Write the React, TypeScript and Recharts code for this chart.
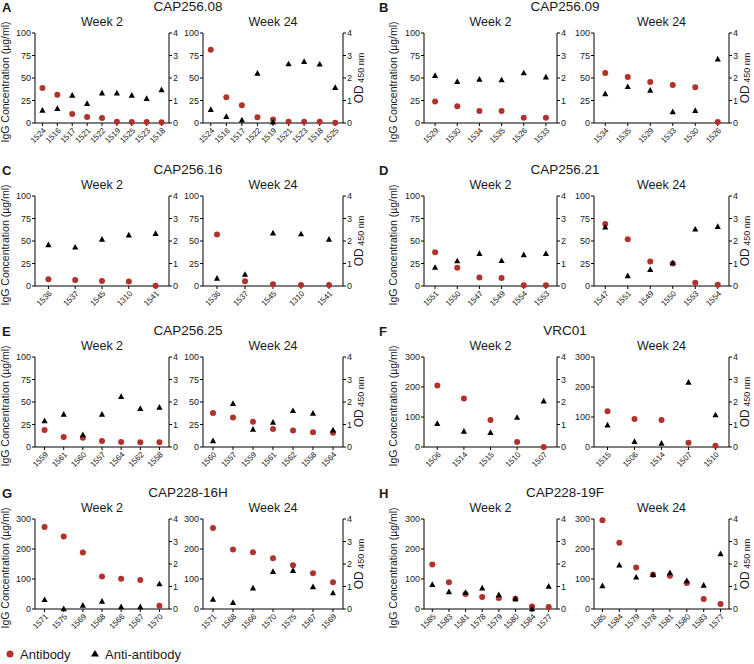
import { ComposedChart, Scatter, XAxis, YAxis } from "recharts";

const FONT = "'Liberation Sans', Arial, Helvetica, sans-serif";
const RED = "#b3312b";
const INK = "#1a1a1a";

// A  CAP256.08
const a2Mice = ["1524", "1516", "1517", "1521", "1522", "1519", "1525", "1523", "1518"];
const a2Antibody = [39, 31.5, 10, 6.7, 5.6, 1.5, 1.1, 1.1, 0.7];
const a2Anti = [0.56, 0.64, 1.23, 0.86, 1.33, 1.33, 1.23, 1.08, 1.47];
const a24Mice = ["1524", "1516", "1517", "1522", "1519", "1521", "1523", "1518", "1525"];
const a24Antibody = [81.5, 28.5, 19.6, 6.3, 4, 1.5, 1.5, 1.5, 0.4];
const a24Anti = [0.59, 0.28, 0.13, 2.2, 0.04, 2.62, 2.73, 2.61, 1.57];

// B  CAP256.09
const b2Mice = ["1529", "1530", "1534", "1535", "1526", "1533"];
const b2Antibody = [24, 18.5, 13.3, 13.3, 5.9, 5.9];
const b2Anti = [2.1, 1.84, 1.94, 1.91, 2.22, 2.04];
const b24Mice = ["1534", "1535", "1529", "1533", "1530", "1526"];
const b24Antibody = [55.6, 51, 45.5, 42.2, 39.6, 1];
const b24Anti = [1.29, 1.61, 1.45, 0.49, 0.55, 2.84];

// C  CAP256.16
const c2Mice = ["1536", "1537", "1545", "1310", "1541"];
const c2Antibody = [7.5, 6.7, 5.6, 4.9, 0.4];
const c2Anti = [1.83, 1.72, 2.07, 2.26, 2.33];
const c24Mice = ["1536", "1537", "1545", "1310", "1541"];
const c24Antibody = [57.3, 5.2, 1.9, 1.1, 1.1];
const c24Anti = [0.34, 0.51, 2.35, 2.31, 2.07];

// D  CAP256.21
const d2Mice = ["1551", "1550", "1547", "1549", "1554", "1553"];
const d2Antibody = [37.5, 20.2, 9.4, 9, 0.7, 0.7];
const d2Anti = [0.82, 1.11, 1.44, 1.12, 1.38, 1.44];
const d24Mice = ["1547", "1551", "1549", "1550", "1553", "1554"];
const d24Antibody = [68.9, 52, 27.3, 25, 3.7, 1.5];
const d24Anti = [2.61, 0.45, 0.73, 1.02, 2.52, 2.64];

// E  CAP256.25
const e2Mice = ["1559", "1561", "1560", "1557", "1564", "1562", "1558"];
const e2Antibody = [19, 11.2, 10.4, 6.7, 5.6, 5.2, 5.2];
const e2Anti = [1.16, 1.45, 0.54, 1.45, 2.24, 1.7, 1.76];
const e24Mice = ["1560", "1557", "1559", "1561", "1562", "1558", "1564"];
const e24Antibody = [37.7, 32.8, 28, 20, 18.3, 16.4, 15.7];
const e24Anti = [0.27, 1.93, 0.78, 1.09, 1.61, 1.49, 0.75];

// F  VRC01
const f2Mice = ["1506", "1514", "1515", "1510", "1507"];
const f2Antibody = [205, 162, 90, 17, 0];
const f2Anti = [1.04, 0.69, 0.64, 1.31, 2.04];
const f24Mice = ["1515", "1506", "1514", "1507", "1510"];
const f24Antibody = [119, 93, 90, 14, 4];
const f24Anti = [0.97, 0.24, 0.16, 2.87, 1.42];

// G  CAP228-16H
const g2Mice = ["1571", "1575", "1569", "1568", "1566", "1567", "1570"];
const g2Antibody = [273, 242, 188, 108, 101, 97, 11];
const g2Anti = [0.41, 0, 0.16, 0.34, 0.09, 0.09, 1.11];
const g24Mice = ["1571", "1568", "1566", "1570", "1575", "1567", "1569"];
const g24Antibody = [270, 198, 189, 169, 146, 119, 89];
const g24Anti = [0.43, 0.28, 0.93, 1.66, 1.7, 0.98, 0.71];

// H  CAP228-19F
const h2Mice = ["1585", "1583", "1581", "1578", "1579", "1580", "1584", "1577"];
const h2Antibody = [148, 89, 50, 40, 37, 34, 8, 7];
const h2Anti = [1.08, 0.76, 0.73, 0.93, 0.63, 0.45, 0, 1.0];
const h24Mice = ["1585", "1584", "1579", "1578", "1581", "1580", "1583", "1577"];
const h24Antibody = [296, 221, 138, 114, 111, 87, 33, 17];
const h24Anti = [1.03, 1.95, 1.41, 1.53, 1.6, 1.25, 1.05, 2.45];

const odTicks = [0, 1, 2, 3, 4];
const ticks100 = [0, 25, 50, 75, 100];
const ticks300 = [0, 100, 200, 300];

const panels = [
  { letter: "A", title: "CAP256.08", row: 0, col: 0, max: 100, ticks: ticks100,
    w2: [a2Mice, a2Antibody, a2Anti], w24: [a24Mice, a24Antibody, a24Anti] },
  { letter: "B", title: "CAP256.09", row: 0, col: 1, max: 100, ticks: ticks100,
    w2: [b2Mice, b2Antibody, b2Anti], w24: [b24Mice, b24Antibody, b24Anti] },
  { letter: "C", title: "CAP256.16", row: 1, col: 0, max: 100, ticks: ticks100,
    w2: [c2Mice, c2Antibody, c2Anti], w24: [c24Mice, c24Antibody, c24Anti] },
  { letter: "D", title: "CAP256.21", row: 1, col: 1, max: 100, ticks: ticks100,
    w2: [d2Mice, d2Antibody, d2Anti], w24: [d24Mice, d24Antibody, d24Anti] },
  { letter: "E", title: "CAP256.25", row: 2, col: 0, max: 100, ticks: ticks100,
    w2: [e2Mice, e2Antibody, e2Anti], w24: [e24Mice, e24Antibody, e24Anti] },
  { letter: "F", title: "VRC01", row: 2, col: 1, max: 300, ticks: ticks300,
    w2: [f2Mice, f2Antibody, f2Anti], w24: [f24Mice, f24Antibody, f24Anti] },
  { letter: "G", title: "CAP228-16H", row: 3, col: 0, max: 300, ticks: ticks300,
    w2: [g2Mice, g2Antibody, g2Anti], w24: [g24Mice, g24Antibody, g24Anti] },
  { letter: "H", title: "CAP228-19F", row: 3, col: 1, max: 300, ticks: ticks300,
    w2: [h2Mice, h2Antibody, h2Anti], w24: [h24Mice, h24Antibody, h24Anti] },
];

// layout of the grid
const ROW_TOP = [33, 196, 357, 519];
const PLOT_H = 90;
const COL_X = [0, 377];
const SUB_X = [
  [[35, 169], [203, 343]],
  [[47, 180], [217, 352]],
];
const YLABEL_X = [9, 397];

const LW = 26;
const RW = 18;
const MT = 6;
const XH = 34;

const Dot = (p: any) => <circle cx={p.cx} cy={p.cy} r={3} fill={RED} />;
const Tri = (p: any) => (
  <path
    d={`M${p.cx},${p.cy - 3.4}L${p.cx + 3.1},${p.cy + 2.3}L${p.cx - 3.1},${p.cy + 2.3}Z`}
    fill="#000"
  />
);

function SubChart({ set, x0, x1, top, max, ticks }: any) {
  const [mice, antibody, anti] = set;
  const data = mice.map((m: string, i: number) => ({
    mouse: m,
    antibody: antibody[i],
    anti: anti[i],
  }));
  // half a category band on each side so marks sit in the middle of their slot
  const half = (x1 - x0) / mice.length / 2;
  const tickStyle = { fontSize: 9, fill: INK, fontFamily: FONT };
  return (
    <div style={{ position: "absolute", left: x0 - LW, top: top - MT }}>
      <ComposedChart
        width={x1 - x0 + LW + RW}
        height={MT + PLOT_H + XH}
        data={data}
        margin={{ top: MT, right: 0, left: 0, bottom: 0 }}
      >
        <XAxis
          dataKey="mouse"
          height={XH}
          interval={0}
          padding={{ left: half, right: half }}
          angle={-45}
          textAnchor="end"
          tick={{ fontSize: 8, fill: INK, fontFamily: FONT }}
          tickSize={3}
          tickMargin={1}
          stroke="#000"
        />
        <YAxis
          yAxisId="ab"
          orientation="left"
          width={LW}
          domain={[0, max]}
          ticks={ticks}
          tickSize={3}
          tickMargin={1}
          stroke="#000"
          tick={tickStyle}
        />
        <YAxis
          yAxisId="od"
          orientation="right"
          width={RW}
          domain={[0, 4]}
          ticks={odTicks}
          tickSize={3}
          tickMargin={1}
          stroke="#000"
          tick={tickStyle}
        />
        <Scatter yAxisId="ab" dataKey="antibody" shape={Dot} isAnimationActive={false} />
        <Scatter yAxisId="od" dataKey="anti" shape={Tri} isAnimationActive={false} />
      </ComposedChart>
    </div>
  );
}

export default function App() {
  return (
    <div
      style={{
        position: "absolute",
        left: 0,
        top: 0,
        width: 754,
        height: 664,
        background: "#fff",
        fontFamily: FONT,
      }}
    >
      {panels.map((p) => {
        const top = ROW_TOP[p.row];
        const cx = COL_X[p.col];
        const [s2, s24] = SUB_X[p.col];
        return (
          <div key={p.letter}>
            <SubChart set={p.w2} x0={cx + s2[0]} x1={cx + s2[1]} top={top} max={p.max} ticks={p.ticks} />
            <SubChart set={p.w24} x0={cx + s24[0]} x1={cx + s24[1]} top={top} max={p.max} ticks={p.ticks} />
          </div>
        );
      })}
      <svg
        width={754}
        height={664}
        style={{ position: "absolute", left: 0, top: 0, pointerEvents: "none" }}
        fontFamily={FONT}
      >
        {panels.map((p) => {
          const top = ROW_TOP[p.row];
          const cx = COL_X[p.col];
          const [s2, s24] = SUB_X[p.col];
          const mid = top + PLOT_H / 2;
          return (
            <g key={p.letter} fill={INK}>
              <text x={cx + 2} y={top - 21} fontSize={13} fontWeight="bold">
                {p.letter}
              </text>
              <text x={cx + 188} y={top - 22} fontSize={13.5} textAnchor="middle">
                {p.title}
              </text>
              <text x={cx + (s2[0] + s2[1]) / 2} y={top - 7.5} fontSize={12.5} textAnchor="middle">
                Week 2
              </text>
              <text x={cx + (s24[0] + s24[1]) / 2} y={top - 7.5} fontSize={12.5} textAnchor="middle">
                Week 24
              </text>
              <text
                transform={`translate(${YLABEL_X[p.col]},${mid + 4}) rotate(-90)`}
                fontSize={10.5}
                textAnchor="middle"
              >
                IgG Concentration (µg/ml)
              </text>
              <text
                transform={`translate(${cx + s24[1] + 19.5},${mid}) rotate(-90)`}
                fontSize={12}
                textAnchor="middle"
              >
                OD
                <tspan fontSize={9} dy={1.5}>
                  {" 450 nm"}
                </tspan>
              </text>
            </g>
          );
        })}
        <circle cx={10} cy={654} r={3.5} fill={RED} />
        <text x={20} y={659} fontSize={13} fill={INK}>
          Antibody
        </text>
        <path d="M95,650 L99,656.5 L91,656.5 Z" fill="#000" />
        <text x={105} y={659} fontSize={13} fill={INK}>
          Anti-antibody
        </text>
      </svg>
    </div>
  );
}
